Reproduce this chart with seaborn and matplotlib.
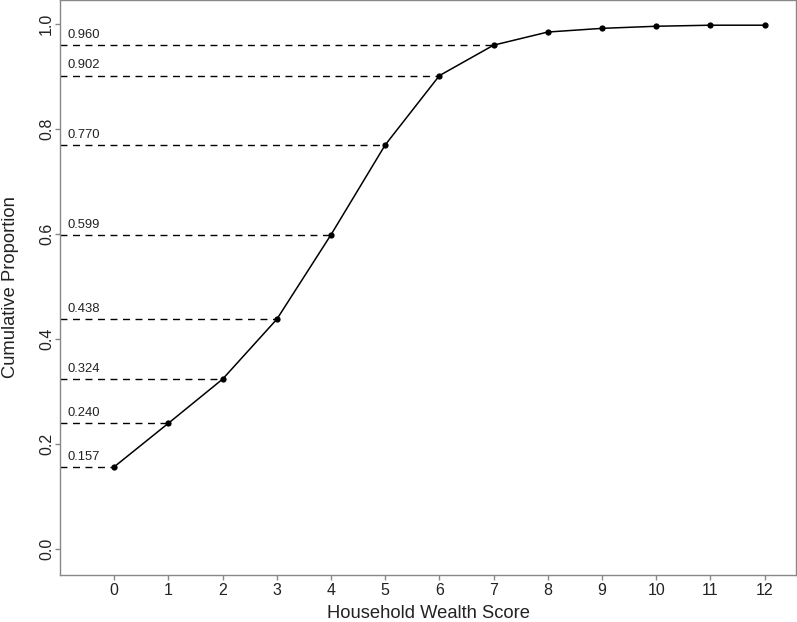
import pandas as pd
import seaborn as sns
import matplotlib.pyplot as plt

# cumulative proportion per household wealth score
scores = [0, 1, 2, 3, 4, 5, 6, 7, 8, 9, 10, 11, 12]
cum_prop = [0.157, 0.240, 0.324, 0.438, 0.599, 0.770, 0.902, 0.960,
            0.985, 0.992, 0.996, 0.998, 0.998]
# scores that get a dashed reference line with a label
ref_scores = [0, 1, 2, 3, 4, 5, 6, 7]
ref_labels = ['0.157', '0.240', '0.324', '0.438', '0.599', '0.770', '0.902', '0.960']

df = pd.DataFrame({'score': scores, 'prop': cum_prop})

sns.set_style('ticks')
plt.rcParams['font.family'] = ['Liberation Sans', 'DejaVu Sans']

fig = plt.figure(figsize=(7.97, 6.22), dpi=100)
ax = fig.add_axes([0.0753, 0.0756, 0.9235, 0.9244])

xmin = -1.0
# dashed guide lines from the left edge to each point
for s, lab in zip(ref_scores, ref_labels):
    v = cum_prop[s]
    ax.hlines(v, xmin, s, colors='black', linestyles=(0, (5, 4)), linewidth=1.0, zorder=1)
    ax.text(xmin + 0.13, v + 0.008, lab,
            fontsize=9.4, color='#222222', ha='left', va='bottom')

sns.lineplot(data=df, x='score', y='prop', ax=ax, color='black', linewidth=1.1,
             marker='o', markersize=4.5, markeredgewidth=0, zorder=3)

ax.set_xlim(xmin, 12.58)
ax.set_ylim(-0.049, 1.046)
ax.set_xticks(scores)
ax.set_yticks([0.0, 0.2, 0.4, 0.6, 0.8, 1.0])
ax.set_yticklabels(['0.0', '0.2', '0.4', '0.6', '0.8', '1.0'], rotation=90, va='center')
ax.tick_params(axis='both', colors='#888888', labelcolor='#222222', labelsize=11.5,
               length=3.5, width=1, pad=2.5)
ax.tick_params(axis='y', pad=0.8)
ax.set_xlabel('Household Wealth Score', fontsize=13.2, color='#222222')
ax.set_ylabel('Cumulative Proportion', fontsize=13.2, color='#222222')
ax.xaxis.set_label_coords(0.5, -0.053)
ax.yaxis.set_label_coords(-0.0557, 0.5)

for sp in ax.spines.values():
    sp.set_visible(True)
    sp.set_color('#888888')
    sp.set_linewidth(1.0)

fig.savefig('out.png', dpi=100)
